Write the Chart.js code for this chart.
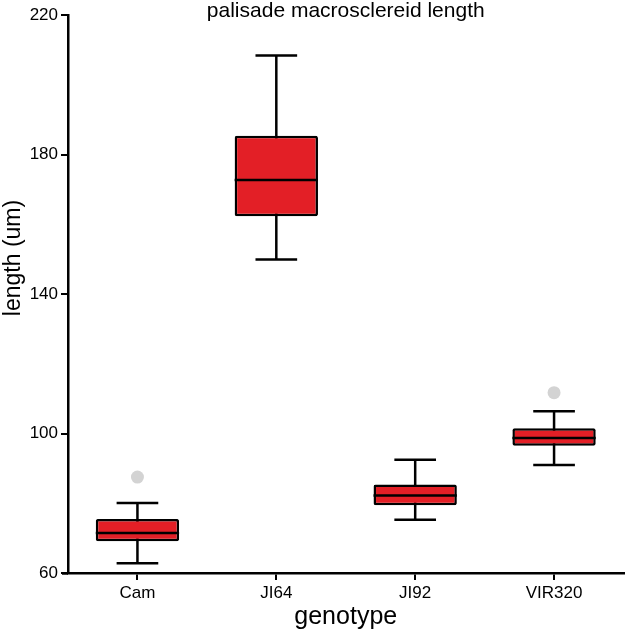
<!DOCTYPE html>
<html>
<head>
<meta charset="utf-8">
<script src="https://cdn.jsdelivr.net/npm/chart.js@4.4.1/dist/chart.umd.min.js"></script>
<style>
  html, body { margin: 0; padding: 0; background: #fff; }
  #wrap { width: 630px; height: 632px; position: relative; }
</style>
</head>
<body>
<div id="wrap"><canvas id="boxChart" width="630" height="632"></canvas></div>
<script>
// data
const genotypes = ["Cam", "JI64", "JI92", "VIR320"];
const whiskerLow = [62.8, 149.9, 75.3, 91.0];
const quartile1 = [69.1, 162.3, 79.4, 96.5];
const medians = [71.5, 172.7, 82.2, 98.7];
const quartile3 = [75.5, 185.4, 85.4, 101.5];
const whiskerHigh = [80.1, 208.4, 92.5, 106.4];
const outliers = [87.5, null, null, 111.7];
const yTicks = [60, 100, 140, 180, 220];

const FONT = "'Liberation Sans', Arial, sans-serif";

// whiskers under the boxes, medians on top, plus the text labels
const boxPlotExtras = {
  id: "boxPlotExtras",
  beforeDatasetsDraw(chart) {
    const ctx = chart.ctx;
    const y = chart.scales.y;
    const bars = chart.getDatasetMeta(0).data;
    ctx.save();
    ctx.strokeStyle = "#000";
    ctx.lineWidth = 2.5;
    bars.forEach((bar, i) => {
      const cap = bar.width / 4;
      const yLo = y.getPixelForValue(whiskerLow[i]);
      const yHi = y.getPixelForValue(whiskerHigh[i]);
      ctx.beginPath();
      ctx.moveTo(bar.x, yLo);
      ctx.lineTo(bar.x, yHi);
      ctx.moveTo(bar.x - cap, yLo);
      ctx.lineTo(bar.x + cap, yLo);
      ctx.moveTo(bar.x - cap, yHi);
      ctx.lineTo(bar.x + cap, yHi);
      ctx.stroke();
    });
    ctx.restore();
  },
  afterDatasetsDraw(chart) {
    const ctx = chart.ctx;
    const y = chart.scales.y;
    const bars = chart.getDatasetMeta(0).data;
    ctx.save();
    ctx.strokeStyle = "#000";
    ctx.lineWidth = 2.5;
    bars.forEach((bar, i) => {
      const ym = y.getPixelForValue(medians[i]);
      ctx.beginPath();
      ctx.moveTo(bar.x - bar.width / 2, ym);
      ctx.lineTo(bar.x + bar.width / 2, ym);
      ctx.stroke();
    });
    ctx.restore();
  },
  afterDraw(chart) {
    const ctx = chart.ctx;
    const area = chart.chartArea;
    const midX = (area.left + area.right) / 2;
    ctx.save();
    // short stub where the x axis runs past the y axis
    ctx.strokeStyle = "#000";
    ctx.lineWidth = 2.5;
    ctx.beginPath();
    ctx.moveTo(area.left - 6, area.bottom + 0.5);
    ctx.lineTo(area.left, area.bottom + 0.5);
    ctx.stroke();

    ctx.fillStyle = "#000";
    ctx.textAlign = "center";
    ctx.textBaseline = "middle";
    ctx.font = "21px " + FONT;
    ctx.fillText("palisade macrosclereid length", midX, 11);
    ctx.font = "25px " + FONT;
    ctx.fillText("genotype", midX, 617);
    ctx.translate(14, 258);
    ctx.rotate(-Math.PI / 2);
    ctx.font = "23px " + FONT;
    ctx.fillText("length (um)", 0, 0);
    ctx.restore();
  }
};

const ctx = document.getElementById("boxChart");
new Chart(ctx, {
  type: "bar",
  data: {
    labels: genotypes,
    datasets: [
      {
        label: "IQR",
        data: genotypes.map((g, i) => [quartile1[i], quartile3[i]]),
        backgroundColor: "#e31f26",
        borderColor: "#000",
        borderWidth: 2.5,
        borderSkipped: false,
        borderRadius: 2,
        barPercentage: 0.6,
        categoryPercentage: 1.0,
        order: 2
      },
      {
        type: "line",
        label: "outliers",
        data: outliers,
        showLine: false,
        pointRadius: 6.5,
        pointBackgroundColor: "#d3d3d3",
        pointBorderColor: "#d3d3d3",
        pointBorderWidth: 0,
        order: 1
      }
    ]
  },
  options: {
    responsive: false,
    animation: false,
    devicePixelRatio: 1,
    layout: { padding: { top: 15, right: 0, left: 0, bottom: 0 } },
    plugins: {
      legend: { display: false },
      tooltip: { enabled: false },
      title: { display: false }
    },
    scales: {
      x: {
        type: "category",
        grid: {
          display: true,
          offset: false,
          drawOnChartArea: false,
          drawTicks: true,
          tickLength: 7,
          color: "#000",
          lineWidth: 2
        },
        border: { display: true, color: "#000", width: 2.5 },
        ticks: {
          color: "#000",
          font: { family: FONT, size: 17 },
          padding: 3,
          maxRotation: 0,
          autoSkip: false
        },
        afterFit(scale) { scale.height = 59; }
      },
      y: {
        min: 60,
        max: 220,
        afterBuildTicks(scale) {
          scale.ticks = yTicks.map(v => ({ value: v }));
        },
        grid: {
          display: true,
          drawOnChartArea: false,
          drawTicks: true,
          tickLength: 7,
          color: "#000",
          lineWidth: 2
        },
        border: { display: true, color: "#000", width: 2.5 },
        ticks: {
          color: "#000",
          font: { family: FONT, size: 17 },
          padding: 3
        },
        afterFit(scale) { scale.width = 68; }
      }
    }
  },
  plugins: [boxPlotExtras]
});
</script>
</body>
</html>
